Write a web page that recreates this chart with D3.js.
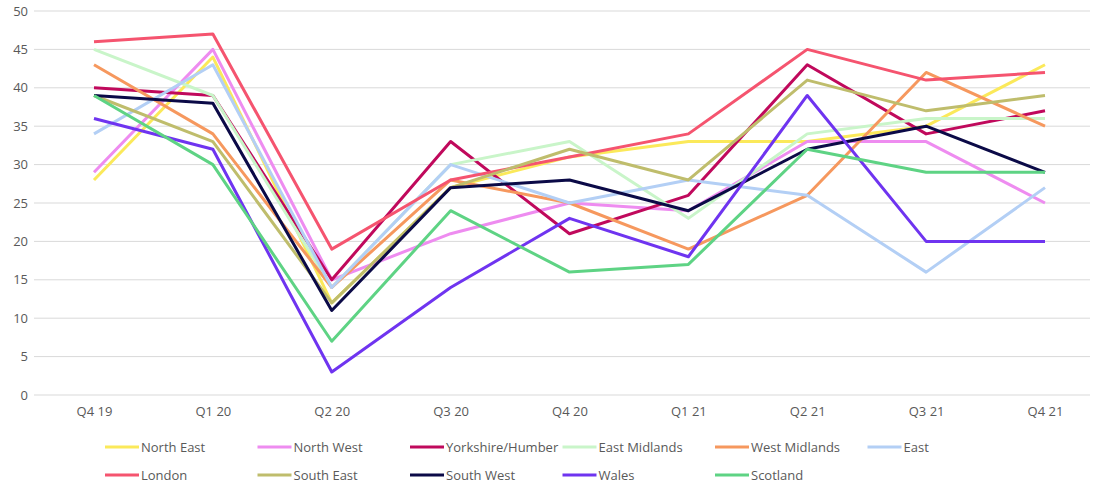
<!DOCTYPE html>
<html>
<head>
<meta charset="utf-8">
<script src="https://cdn.jsdelivr.net/npm/d3@7"></script>
<style>
  body { margin: 0; background: #fff; }
  text { font-family: 'Open Sans', 'Noto Sans', sans-serif; fill: #595959; }
</style>
</head>
<body>
<div id="chart"></div>
<script>
const quarters = ['Q4 19', 'Q1 20', 'Q2 20', 'Q3 20', 'Q4 20', 'Q1 21', 'Q2 21', 'Q3 21', 'Q4 21'];
const yTicks = [0, 5, 10, 15, 20, 25, 30, 35, 40, 45, 50];

const northEast     = [28, 44, 12, 27, 31, 33, 33, 35, 43];
const northWest     = [29, 45, 15, 21, 25, 24, 33, 33, 25];
const yorkshire     = [40, 39, 15, 33, 21, 26, 43, 34, 37];
const eastMidlands  = [45, 39, 14, 30, 33, 23, 34, 36, 36];
const westMidlands  = [43, 34, 14, 28, 25, 19, 26, 42, 35];
const east          = [34, 43, 14, 30, 25, 28, 26, 16, 27];
const london        = [46, 47, 19, 28, 31, 34, 45, 41, 42];
const southEast     = [39, 33, 12, 27, 32, 28, 41, 37, 39];
const southWest     = [39, 38, 11, 27, 28, 24, 32, 35, 29];
const wales         = [36, 32, 3, 14, 23, 18, 39, 20, 20];
const scotland      = [39, 30, 7, 24, 16, 17, 32, 29, 29];

const series = [
  { name: 'North East', values: northEast, color: '#fbe95a' },
  { name: 'North West', values: northWest, color: '#ee8cf0' },
  { name: 'Yorkshire/Humber', values: yorkshire, color: '#c0095c' },
  { name: 'East Midlands', values: eastMidlands, color: '#c9f5c9' },
  { name: 'West Midlands', values: westMidlands, color: '#f6985e' },
  { name: 'East', values: east, color: '#b3cff5' },
  { name: 'London', values: london, color: '#f5546f' },
  { name: 'South East', values: southEast, color: '#bfbd6c' },
  { name: 'South West', values: southWest, color: '#0b0a47' },
  { name: 'Wales', values: wales, color: '#6f34f0' },
  { name: 'Scotland', values: scotland, color: '#5ed384' }
];

const width = 1110, height = 490;
const margin = { top: 11, right: 20, bottom: 95, left: 34 };
const w = width - margin.left - margin.right;
const h = height - margin.top - margin.bottom;

const svg = d3.select('#chart').append('svg')
  .attr('width', width)
  .attr('height', height);

const g = svg.append('g')
  .attr('transform', 'translate(' + margin.left + ',' + margin.top + ')');

// categories sit a little left of centre, as in the original
const x = d3.scalePoint()
  .domain(quarters)
  .range([60, 1011])
  .padding(0);

const y = d3.scaleLinear()
  .domain([0, 50])
  .range([h, 0]);

// gridlines
g.append('g')
  .selectAll('line')
  .data(yTicks)
  .enter()
  .append('line')
  .attr('x1', 0)
  .attr('x2', w)
  .attr('y1', (d) => y(d))
  .attr('y2', (d) => y(d))
  .attr('stroke', '#d9d9d9')
  .attr('stroke-width', 1);

const yAxis = d3.axisLeft(y).tickValues(yTicks).tickSize(0).tickPadding(6);
const yele = g.append('g').call(yAxis);
yele.select('.domain').remove();
yele.selectAll('text').style('font-size', '13px').attr('fill', '#595959');

const xAxis = d3.axisBottom(x).tickSize(0).tickPadding(12);
const xele = g.append('g')
  .attr('transform', 'translate(0,' + h + ')')
  .call(xAxis);
xele.select('.domain').remove();
xele.selectAll('text').style('font-size', '13px').attr('fill', '#595959');

const line = d3.line()
  .x((d, i) => x(quarters[i]))
  .y((d) => y(d));

g.selectAll('.metric')
  .data(series)
  .enter()
  .append('path')
  .attr('class', 'metric')
  .attr('fill', 'none')
  .attr('stroke', (d) => d.color)
  .attr('stroke-width', 3)
  .attr('stroke-linejoin', 'round')
  .attr('d', (d) => line(d.values));

// legend
const legend = svg.append('g');
const item = legend.selectAll('.item')
  .data(series)
  .enter()
  .append('g')
  .attr('class', 'item')
  .attr('transform', (d, i) => 'translate(' + (105 + (i % 6) * 152.5) + ',' + (447 + Math.floor(i / 6) * 28) + ')');

item.append('line')
  .attr('x1', 0)
  .attr('x2', 34)
  .attr('stroke', (d) => d.color)
  .attr('stroke-width', 3);

item.append('text')
  .attr('x', 36)
  .attr('dy', '0.35em')
  .style('font-size', '13px')
  .text((d) => d.name);
</script>
</body>
</html>
